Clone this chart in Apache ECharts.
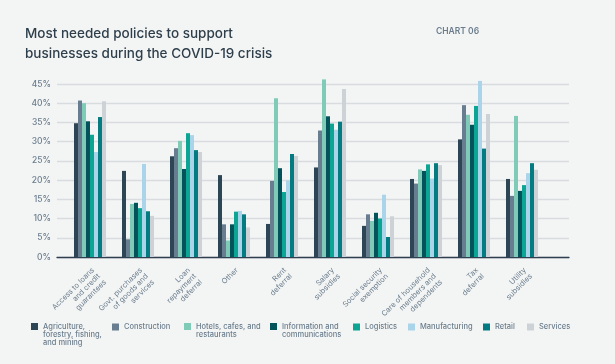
<!DOCTYPE html>
<html>
<head>
<meta charset="utf-8">
<script src="https://cdn.jsdelivr.net/npm/echarts@6/dist/echarts.min.js"></script>
<style>
html,body{margin:0;padding:0;background:#f3f5f5;}
#c{width:615px;height:364px;}
</style>
</head>
<body>
<div id="c"></div>
<script>
const categories = [
  "Access to loans\nand credit\nguarantees",
  "Govt. purchases\nof goods and\nservices",
  "Loan\nrepayment\ndeferral",
  "Other",
  "Rent\ndeferral",
  "Salary\nsubsidies",
  "Social security\nexemption",
  "Care of household\nmembers and\ndependents",
  "Tax\ndeferral",
  "Utility\nsubsidies"
];
const yTicks = [0, 5, 10, 15, 20, 25, 30, 35, 40, 45];

const agriculture   = [34.8, 22.4, 26.2, 21.3,  8.6, 23.3,  8.1, 20.3, 30.6, 20.3];
const construction  = [40.7,  4.6, 28.3,  8.5, 19.8, 32.9, 11.1, 19.1, 39.5, 15.9];
const hotels        = [40.0, 13.8, 30.2,  4.3, 41.3, 46.2,  9.4, 22.8, 37.0, 36.7];
const information   = [35.3, 14.1, 22.9,  8.5, 23.1, 36.6, 11.5, 22.4, 34.4, 17.2];
const logistics     = [31.8, 12.7, 32.2, 11.8, 16.9, 34.7, 10.0, 24.1, 39.3, 18.7];
const manufacturing = [27.3, 24.2, 31.7, 12.0, 19.9, 33.1, 16.2, 20.4, 45.8, 21.8];
const retail        = [36.4, 11.9, 27.8, 11.1, 26.8, 35.2,  5.2, 24.4, 28.2, 24.4];
const services      = [40.5, 10.7, 27.3,  7.7, 26.3, 43.7, 10.6, 23.9, 37.2, 22.7];

const seriesNames = ["Agriculture, forestry, fishing, and mining", "Construction", "Hotels, cafes, and restaurants", "Information and communications", "Logistics", "Manufacturing", "Retail", "Services"];
const legendLabels = ["Agriculture,\nforestry, fishing,\nand mining", "Construction", "Hotels, cafes, and\nrestaurants", "Information and\ncommunications", "Logistics", "Manufacturing", "Retail", "Services"];
const seriesData = [agriculture, construction, hotels, information, logistics, manufacturing, retail, services];
const colors = ["#2d4655", "#687d8f", "#7fcbb8", "#04535a", "#0ca593", "#a9d4e9", "#037b80", "#cdd2d6"];

const legendLeft = [31, 112, 184, 270, 353, 408, 483, 527];
const FONT = "Inter, 'Noto Sans', sans-serif";
const LBL = "#6b7d8c";
const LEG_LH = 8;

const chart = echarts.init(document.getElementById('c'), null, {renderer: 'canvas'});

const legends = seriesNames.map((n, i) => {
  const lines = legendLabels[i].split("\n").length;
  const h = LEG_LH * lines;
  const icon = lines === 1 ? 'rect'
    : 'path://M0,0h7v7h-7zM0,' + (h - 0.01) + 'h0.01v0.01h-0.01z';
  return {
    data: [n],
    left: legendLeft[i],
    top: 323,
    icon: icon,
    itemWidth: 7,
    itemHeight: lines === 1 ? 7 : h,
    itemGap: 0,
    padding: 0,
    selectedMode: false,
    formatter: () => legendLabels[i],
    textStyle: {
      color: LBL, fontSize: 7.5, fontFamily: FONT, fontWeight: 500,
      lineHeight: LEG_LH
    }
  };
});

const option = {
  backgroundColor: '#f3f5f5',
  animation: false,
  title: [
    {
      text: "Most needed policies to support\nbusinesses during the COVID-19 crisis",
      left: 25, top: 24, padding: 0,
      textStyle: {color: '#2e3e4a', fontSize: 13.5, fontWeight: 500, fontFamily: FONT, lineHeight: 20}
    },
    {
      text: "CHART 06",
      left: 436, top: 27, padding: 0,
      textStyle: {color: '#6b7d8c', fontSize: 8.5, fontWeight: 600, fontFamily: FONT, letterSpacing: 2.1}
    }
  ],
  legend: legends,
  grid: [
    {left: 57, right: 46, top: 84, bottom: 107},
    {left: 66, right: 69, top: 64.78, bottom: 107}
  ],
  xAxis: [
    {
      type: 'category', gridIndex: 0, data: [''],
      axisLine: {show: true, lineStyle: {color: '#2e4050', width: 1.3}},
      axisTick: {show: false}, axisLabel: {show: false}, splitLine: {show: false}
    },
    {
      type: 'category', gridIndex: 1, data: categories,
      axisLine: {show: false}, axisTick: {show: false},
      axisLabel: {
        rotate: 45, interval: 0, margin: 9, verticalAlign: 'top', align: 'right',
        color: LBL, fontSize: 7.5, fontFamily: FONT, lineHeight: 8.5
      }
    }
  ],
  yAxis: [
    {
      type: 'value', gridIndex: 0, min: 0, max: 45, interval: 5,
      axisLine: {show: false}, axisTick: {show: false},
      axisLabel: {
        margin: 6, color: LBL, fontSize: 8.5, fontFamily: FONT, fontWeight: 500, letterSpacing: 0.8,
        formatter: v => yTicks.includes(v) ? v + '%' : ''
      },
      splitLine: {lineStyle: {color: '#d8dcdf', width: 1.3}}
    },
    {
      type: 'value', gridIndex: 1, min: 0, max: 50, interval: 5,
      show: false, splitLine: {show: false}
    }
  ],
  series: seriesNames.map((n, i) => ({
    name: n, type: 'bar', xAxisIndex: 1, yAxisIndex: 1,
    data: seriesData[i],
    barWidth: 4, barGap: '0%', barCategoryGap: '33%',
    itemStyle: {color: colors[i]}
  })),
  color: colors
};
chart.setOption(option);
</script>
</body>
</html>
